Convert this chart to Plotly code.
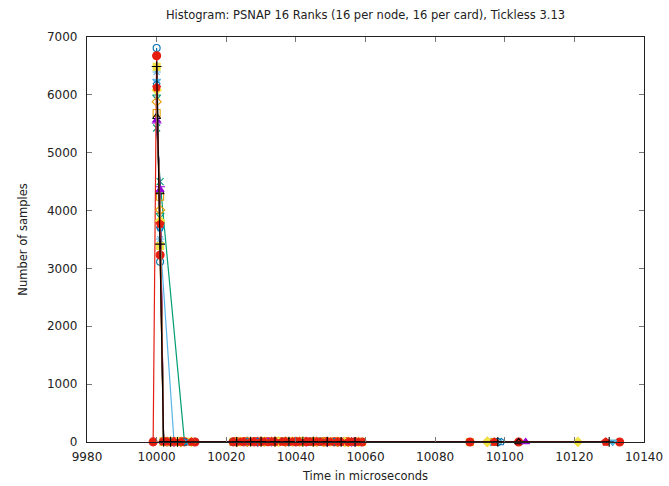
import plotly.graph_objects as go

# Latency histogram, one series per rank: bin (microseconds) -> sample count
rank_names = [f"rank {i}" for i in range(16)]

bins = [
    [10000, 10001, 10002, 10003, 10005, 10023, 10026, 10029, 10033, 10037, 10040, 10043, 10046, 10049, 10052, 10056],
    [10000, 10001, 10008, 10010, 10022, 10025, 10028, 10031, 10035, 10038, 10042, 10045, 10048, 10051, 10054, 10057],
    [10000, 10001, 10005, 10006, 10009, 10024, 10027, 10030, 10034, 10039, 10041, 10044, 10047, 10050, 10053, 10058, 10096],
    [10000, 10001, 10002, 10004, 10007, 10023, 10026, 10030, 10033, 10036, 10040, 10043, 10047, 10050, 10053, 10056, 10097],
    [10000, 10001, 10002, 10003, 10006, 10009, 10022, 10025, 10028, 10032, 10035, 10038, 10042, 10045, 10048, 10051, 10055, 10059, 10090],
    [10000, 10001, 10002, 10004, 10007, 10011, 10024, 10027, 10031, 10034, 10037, 10041, 10044, 10047, 10050, 10054, 10057, 10098],
    [9999, 10000, 10001, 10002, 10003, 10005, 10007, 10008, 10011, 10022, 10023, 10025, 10026, 10028, 10029, 10031, 10032, 10034,
     10035, 10037, 10039, 10040, 10042, 10043, 10045, 10046, 10048, 10049, 10051, 10052, 10054, 10055, 10057, 10059, 10090, 10104, 10133],
    [10000, 10001, 10002, 10003, 10006, 10023, 10027, 10030, 10033, 10038, 10041, 10045, 10049, 10052, 10056, 10104],
    [10000, 10001, 10002, 10004, 10024, 10028, 10032, 10036, 10039, 10043, 10046, 10050, 10053, 10106],
    [10000, 10001, 10002, 10003, 10008, 10022, 10026, 10029, 10033, 10037, 10040, 10044, 10047, 10051, 10055, 10131],
    [10000, 10001, 10002, 10005, 10009, 10025, 10028, 10031, 10035, 10038, 10042, 10046, 10049, 10053, 10057, 10096, 10131],
    [10000, 10001, 10002, 10004, 10007, 10023, 10026, 10030, 10034, 10037, 10041, 10045, 10048, 10052, 10055, 10095],
    [10000, 10001, 10002, 10003, 10006, 10010, 10024, 10027, 10031, 10035, 10039, 10042, 10046, 10050, 10054, 10058, 10095, 10121],
    [10000, 10001, 10002, 10004, 10008, 10022, 10026, 10029, 10033, 10036, 10040, 10043, 10047, 10051, 10056, 10099],
    [10000, 10001, 10002, 10003, 10005, 10007, 10010, 10022, 10024, 10025, 10027, 10028, 10030, 10031, 10033, 10034, 10036, 10037,
     10039, 10040, 10041, 10043, 10044, 10046, 10047, 10049, 10050, 10052, 10053, 10055, 10056, 10058, 10097, 10129],
    [10000, 10001, 10002, 10004, 10006, 10023, 10027, 10030, 10034, 10038, 10042, 10045, 10049, 10053, 10057, 10098, 10130],
]

counts = [
    [5513, 4412, 9, 4, 2, 3, 5, 4, 6, 5, 7, 6, 4, 3, 2, 1],
    [5427, 4499, 6, 2, 3, 4, 5, 6, 5, 6, 7, 5, 4, 3, 2, 1],
    [6395, 3508, 8, 3, 2, 4, 5, 6, 7, 6, 8, 7, 5, 4, 3, 2, 1],
    [5686, 4240, 7, 3, 2, 4, 5, 5, 6, 7, 6, 5, 4, 4, 3, 1, 1],
    [6486, 3387, 10, 4, 3, 2, 4, 6, 7, 8, 9, 8, 9, 7, 6, 5, 3, 2, 1],
    [6810, 3116, 9, 4, 3, 2, 4, 5, 6, 7, 8, 7, 6, 6, 5, 3, 2, 1],
    [2, 6677, 3232, 8, 4, 3, 2, 2, 1, 2, 3, 3, 4, 3, 4, 4, 5, 4,
     5, 5, 4, 5, 4, 5, 4, 4, 3, 4, 3, 3, 2, 2, 2, 1, 1, 1, 1],
    [5622, 4321, 8, 3, 2, 3, 4, 5, 6, 5, 6, 5, 4, 3, 2, 1],
    [5560, 4360, 7, 3, 4, 5, 6, 6, 7, 5, 4, 3, 2, 1],
    [5968, 3923, 8, 3, 2, 4, 5, 6, 7, 6, 7, 5, 4, 3, 2, 1],
    [6240, 3680, 9, 3, 2, 4, 5, 6, 6, 7, 6, 5, 4, 3, 2, 1, 1],
    [5881, 4010, 8, 3, 2, 3, 5, 6, 7, 6, 7, 5, 4, 3, 2, 1],
    [6083, 3825, 9, 4, 3, 2, 4, 5, 6, 7, 8, 7, 5, 4, 3, 2, 1, 1],
    [6180, 3700, 9, 3, 2, 4, 5, 6, 7, 8, 7, 6, 5, 3, 2, 1],
    [6130, 3768, 8, 4, 3, 2, 1, 2, 3, 3, 3, 4, 4, 4, 5, 4, 5, 4,
     5, 4, 5, 4, 4, 4, 3, 3, 3, 3, 2, 2, 2, 1, 1, 1],
    [6490, 3420, 8, 4, 2, 3, 5, 6, 7, 6, 7, 5, 4, 3, 2, 1, 1],
]

x_ticks = [9980, 10000, 10020, 10040, 10060, 10080, 10100, 10120, 10140]
y_ticks = [0, 1000, 2000, 3000, 4000, 5000, 6000, 7000]

# gnuplot-style line type cycle
palette = ["#9400d3", "#009e73", "#56b4e9", "#e69f00", "#f0e442", "#0072b2", "#e51e10", "#000000"]
symbols = ["cross-thin-open", "x-thin-open", "asterisk-open", "square-open", "square", "circle-open", "circle",
           "triangle-up-open", "triangle-up", "triangle-down-open", "triangle-down", "diamond-open", "diamond",
           "pentagon-open", "pentagon", "cross-thin-open"]
marker_sizes = [7, 7, 7, 7, 7, 7, 8, 7, 7, 7, 7, 7, 7, 7, 8, 7]

FONT = "DejaVu Sans"

fig = go.Figure()
for i, name in enumerate(rank_names):
    color = palette[i % len(palette)]
    fig.add_trace(go.Scatter(
        x=bins[i], y=counts[i], name=name, mode="lines+markers",
        line=dict(color=color, width=1.2),
        marker=dict(symbol=symbols[i], size=marker_sizes[i], color=color, line=dict(color=color, width=1.1)),
        cliponaxis=False,
    ))

axis_common = dict(
    showline=True, linecolor="#222", linewidth=1.2, mirror="ticks",
    ticks="inside", ticklen=5, tickcolor="#777", tickwidth=1,
    showgrid=False, zeroline=False, automargin=False,
    tickfont=dict(family=FONT, size=12, color="#222"),
)

fig.update_layout(
    width=669, height=486,
    margin=dict(l=87, r=25, t=37, b=44),
    paper_bgcolor="white", plot_bgcolor="white",
    showlegend=False,
    title=dict(
        text="Histogram: PSNAP 16 Ranks (16 per node, 16 per card), Tickless 3.13",
        font=dict(family=FONT, size=11.5, color="#222"),
        x=(87 + 644) / 2 / 669, xanchor="center", y=1 - 15 / 486, yanchor="middle",
    ),
    xaxis=dict(
        range=[9980, 10140], tickvals=x_ticks, ticktext=[str(v) for v in x_ticks],
        title=dict(text="Time in microseconds", font=dict(family=FONT, size=11.5, color="#222"), standoff=9),
        ticklabelstandoff=3,
        **axis_common,
    ),
    yaxis=dict(
        range=[0, 7000], tickvals=y_ticks, ticktext=[str(v) for v in y_ticks],
        title=dict(text="Number of samples", font=dict(family=FONT, size=11.5, color="#222"), standoff=16),
        ticklabelstandoff=6,
        **axis_common,
    ),
)

fig.write_html("out.html")
